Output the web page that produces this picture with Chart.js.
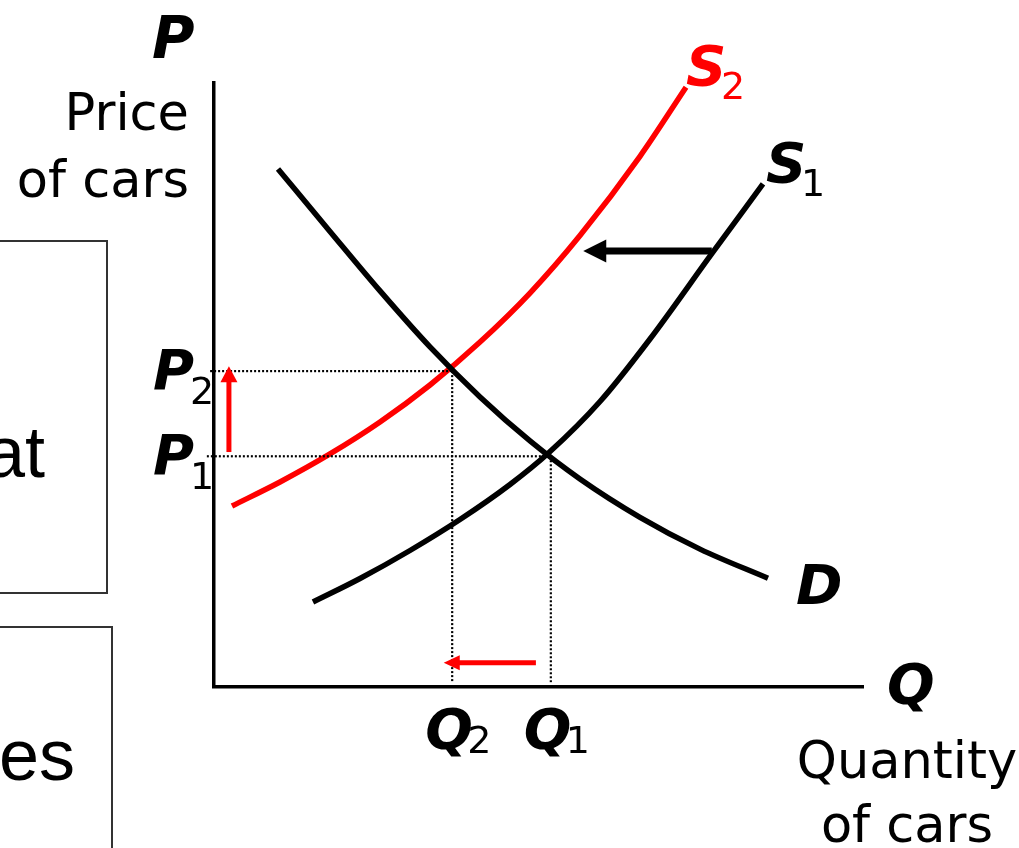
<!DOCTYPE html>
<html>
<head>
<meta charset="utf-8">
<script src="https://cdn.jsdelivr.net/npm/chart.js@4.4.0/dist/chart.umd.min.js"></script>
<style>
  html, body { margin: 0; padding: 0; background: #fff; overflow: hidden; }
  #wrap { position: relative; width: 1019px; height: 848px; }
  canvas { display: block; }
</style>
</head>
<body>
<div id="wrap"><canvas id="c" width="1019" height="848"></canvas></div>
<script>
// ---- data (axis units 0..100) ----
const demandQ  = [9.86, 17.87, 25.58, 33.28, 40.99, 48.69, 56.39, 65.64, 74.88, 85.36];
const demandP  = [85.76, 75.43, 65.58, 56.31, 48.03, 40.75, 34.45, 28.10, 22.83, 18.00];
const supply1Q = [15.25, 22.50, 30.20, 37.90, 45.61, 51.62, 59.48, 67.18, 76.73, 84.59];
const supply1P = [14.07, 17.96, 22.60, 27.73, 33.53, 38.82, 47.27, 57.62, 71.79, 83.28];
const supply2Q = [2.77, 10.17, 17.87, 25.58, 33.28, 40.99, 48.69, 56.39, 65.64, 72.73];
const supply2P = [29.97, 33.94, 38.58, 43.87, 50.00, 57.12, 65.23, 74.75, 87.86, 99.29];

const equilibriumQ = [51.9, 36.7];   // Q1, Q2
const equilibriumP = [38.2, 52.3];   // P1, P2

// arrows: [x1, y1, x2(tip), y2(tip)]
const priceArrow    = [2.3, 38.9, 2.3, 53.1];
const quantityArrow = [49.6, 4.0, 35.4, 4.0];
const shiftArrow    = [76.7, 72.2, 56.9, 72.2];

const curveLabels = ['D', 'S', 'S'];
const curveSubs   = ['', '1', '2'];
const axisLabelP = ['P', 'Price', 'of cars'];
const axisLabelQ = ['Q', 'Quantity', 'of cars'];
const tickSubs = ['1', '2'];
const boxTexts = ['at', 'es'];

const zip = (xs, ys) => xs.map((x, i) => ({ x: x, y: ys[i] }));

const dotted = { borderColor: '#000', borderWidth: 2.2, borderDash: [2, 2], pointRadius: 0, showLine: true, fill: false, clip: false };
const curve = { borderWidth: 5.5, pointRadius: 0, showLine: true, fill: false, cubicInterpolationMode: 'monotone', clip: false, borderCapStyle: 'butt' };

const datasets = [
  Object.assign({ data: [{x: -1.1, y: equilibriumP[0]}, {x: equilibriumQ[0], y: equilibriumP[0]}] }, dotted),
  Object.assign({ data: [{x: -0.6, y: equilibriumP[1]}, {x: equilibriumQ[1], y: equilibriumP[1]}] }, dotted),
  Object.assign({ data: [{x: equilibriumQ[0], y: equilibriumP[0]}, {x: equilibriumQ[0], y: 0.8}] }, dotted),
  Object.assign({ data: [{x: equilibriumQ[1], y: equilibriumP[1]}, {x: equilibriumQ[1], y: 0.8}] }, dotted),
  Object.assign({ data: zip(demandQ, demandP), borderColor: '#000' }, curve),
  Object.assign({ data: zip(supply1Q, supply1P), borderColor: '#000' }, curve),
  Object.assign({ data: zip(supply2Q, supply2P), borderColor: '#ff0000' }, curve)
];

function arrow(ctx, xs, ys, a, color, shaft, headLen, headHalf) {
  const x1 = xs.getPixelForValue(a[0]), y1 = ys.getPixelForValue(a[1]);
  const x2 = xs.getPixelForValue(a[2]), y2 = ys.getPixelForValue(a[3]);
  const ang = Math.atan2(y2 - y1, x2 - x1);
  const bx = x2 - headLen * Math.cos(ang), by = y2 - headLen * Math.sin(ang);
  ctx.save();
  ctx.strokeStyle = color; ctx.fillStyle = color;
  ctx.lineWidth = shaft; ctx.lineCap = 'butt';
  ctx.beginPath(); ctx.moveTo(x1, y1); ctx.lineTo(bx + Math.cos(ang), by + Math.sin(ang)); ctx.stroke();
  ctx.beginPath();
  ctx.moveTo(x2, y2);
  ctx.lineTo(bx - headHalf * Math.sin(ang), by + headHalf * Math.cos(ang));
  ctx.lineTo(bx + headHalf * Math.sin(ang), by - headHalf * Math.cos(ang));
  ctx.closePath(); ctx.fill();
  ctx.restore();
}

const BI = (s) => 'italic bold ' + s + 'px "DejaVu Sans"';
const RG = (s) => s + 'px "DejaVu Sans"';

const overlay = {
  id: 'overlay',
  afterDatasetsDraw(chart) {
    const ctx = chart.ctx;
    const xs = chart.scales.x, ys = chart.scales.y;
    const ax = xs.getPixelForValue(0), ay = ys.getPixelForValue(0);
    const t = (txt, x, y, font, color, align) => {
      ctx.font = font; ctx.fillStyle = color || '#000';
      ctx.textAlign = align || 'left'; ctx.textBaseline = 'alphabetic';
      ctx.fillText(txt, x, y);
    };
    // arrows
    arrow(ctx, xs, ys, shiftArrow, '#000', 7, 23, 11.5);
    arrow(ctx, xs, ys, priceArrow, '#ff0000', 5, 16, 8.5);
    arrow(ctx, xs, ys, quantityArrow, '#ff0000', 5, 16, 7.5);

    // axis titles
    t(axisLabelP[0], ax - 62, ys.top - 25, BI(58));
    t(axisLabelP[1], ax - 25, ys.top + 47, RG(51), '#000', 'right');
    t(axisLabelP[2], ax - 25, ys.top + 114, RG(51), '#000', 'right');
    t(axisLabelQ[0], xs.right + 24, ay + 16, BI(56));
    t(axisLabelQ[1], xs.right + 44, ay + 91, RG(51), '#000', 'center');
    t(axisLabelQ[2], xs.right + 44, ay + 155, RG(51), '#000', 'center');

    // P1 / P2 tick labels
    equilibriumP.forEach((p, i) => {
      const py = ys.getPixelForValue(p);
      t('P', ax - 61, py + 18, BI(56));
      t(tickSubs[i], ax - 24, py + 33, RG(38));
    });
    // Q1 / Q2 tick labels
    equilibriumQ.forEach((q, i) => {
      const qx = xs.getPixelForValue(q);
      t('Q', qx - 27, ay + 61, BI(56));
      t(tickSubs[i], qx + 15, ay + 66, RG(38));
    });

    // curve labels at curve ends
    const ends = [
      [demandQ[demandQ.length - 1], demandP[demandP.length - 1], '#000', 28, 26],
      [supply1Q[supply1Q.length - 1], supply1P[supply1P.length - 1], '#000', 3, -2],
      [supply2Q[supply2Q.length - 1], supply2P[supply2P.length - 1], '#ff0000', 0, -2]
    ];
    ends.forEach((e, i) => {
      const x = xs.getPixelForValue(e[0]), y = ys.getPixelForValue(e[1]);
      t(curveLabels[i], x + e[3], y + e[4], BI(56), e[2]);
      if (curveSubs[i]) t(curveSubs[i], x + e[3] + 35, y + e[4] + 14, RG(38), e[2]);
    });

    // cropped slide text boxes on the left
    ctx.save();
    ctx.strokeStyle = '#333'; ctx.lineWidth = 2;
    ctx.strokeRect(-10, 241, 117, 352);
    ctx.strokeRect(-10, 627, 122, 260);
    ctx.restore();
    t(boxTexts[0], 45, 477, '72px "Liberation Sans"', '#000', 'right');
    t(boxTexts[1], 75, 780, '72px "Liberation Sans"', '#000', 'right');
  }
};

new Chart(document.getElementById('c'), {
  type: 'scatter',
  data: { datasets: datasets },
  options: {
    responsive: false,
    animation: false,
    devicePixelRatio: 1,
    layout: { padding: { left: 214, top: 83, right: 156, bottom: 161 } },
    plugins: { legend: { display: false }, tooltip: { enabled: false } },
    scales: {
      x: {
        type: 'linear', min: 0, max: 100,
        ticks: { display: false },
        grid: { display: false, drawTicks: false },
        border: { display: true, color: '#000', width: 3.5 },
        afterFit: (s) => { s.height = 0; }
      },
      y: {
        type: 'linear', min: 0, max: 100,
        ticks: { display: false },
        grid: { display: false, drawTicks: false },
        border: { display: true, color: '#000', width: 3.5 },
        afterFit: (s) => { s.width = 0; }
      }
    }
  },
  plugins: [overlay]
});
</script>
</body>
</html>
